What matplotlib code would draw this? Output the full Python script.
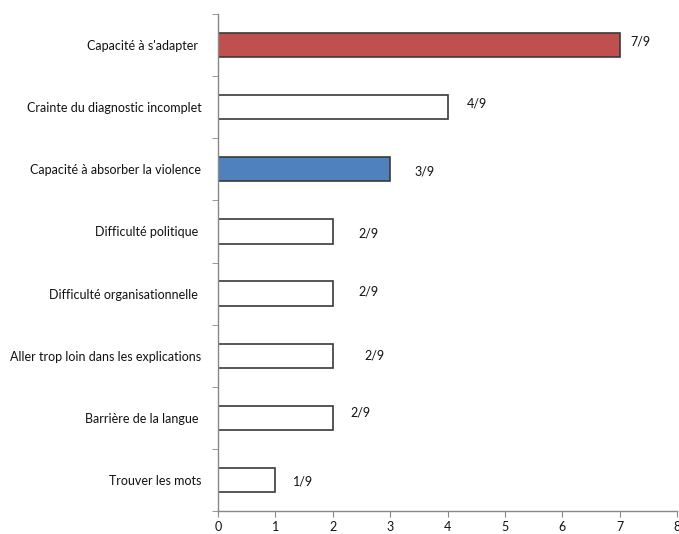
import numpy as np
import matplotlib
matplotlib.use("Agg")
import matplotlib.pyplot as plt

plt.rcParams['font.family'] = ['Lato', 'DejaVu Sans']

# données (du haut vers le bas)
categories = ["Capacité à s'adapter ", "Crainte du diagnostic incomplet",
              "Capacité à absorber la violence", "Difficulté politique ",
              "Difficulté organisationnelle ", "Aller trop loin dans les explications",
              "Barrière de la langue ", "Trouver les mots"]
values = [7, 4, 3, 2, 2, 2, 2, 1]
labels = ["7/9", "4/9", "3/9", "2/9", "2/9", "2/9", "2/9", "1/9"]
colors = ["#C0504D", "white", "#4F81BD", "white", "white", "white", "white", "white"]
# décalage des étiquettes (placées à la main dans l'original)
lab_dx = [0.18, 0.33, 0.43, 0.45, 0.45, 0.55, 0.3, 0.3]
lab_dy = [-0.05, -0.06, 0.03, 0.03, -0.03, 0.0, -0.08, 0.03]

fig = plt.figure(figsize=(6.79, 5.34), dpi=100)
ax = fig.add_axes([218/679, 1-511/534, (677-218)/679, (511-14)/534])

y = np.arange(len(categories))
ax.barh(y, values, height=0.39, color=colors, edgecolor="#3a3a3a", linewidth=1.2)
for i in range(len(values)):
    ax.text(values[i] + lab_dx[i], y[i] + lab_dy[i], labels[i], fontsize=9,
            va="center", ha="left", color="#111111")

ax.set_xlim(0, 8)
ax.set_ylim(len(categories) - 0.5, -0.5)
ax.set_xticks(range(9))
ax.set_yticks(y)
ax.set_yticklabels(categories, fontsize=9, color="#111111")
ax.set_yticks(np.arange(-0.5, len(categories)), minor=True)
ax.tick_params(axis="y", which="major", length=0, pad=12)
ax.tick_params(axis="y", which="minor", length=4, color="#888888", direction="out")
ax.tick_params(axis="x", length=4, color="#888888", labelsize=9, labelcolor="#111111", pad=3)
for s in ["top", "right"]:
    ax.spines[s].set_visible(False)
for s in ["left", "bottom"]:
    ax.spines[s].set_color("#888888")
    ax.spines[s].set_linewidth(1.0)

fig.savefig("out.png", dpi=100)
